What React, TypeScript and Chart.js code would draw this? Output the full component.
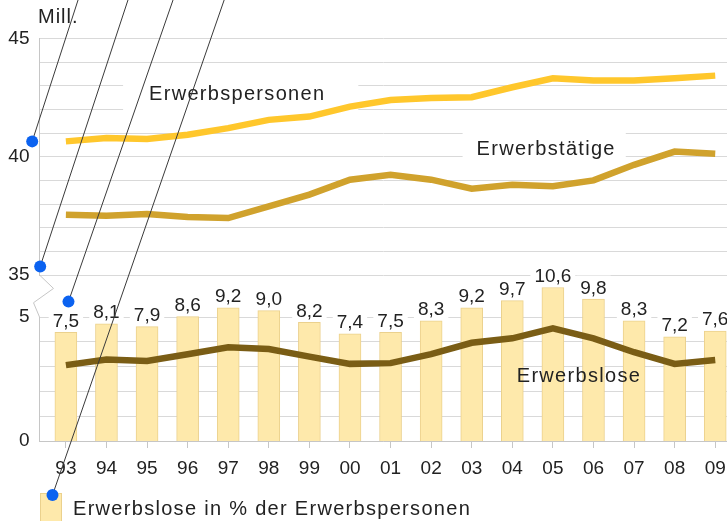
import React, { useEffect, useRef } from 'react';
import { Chart, registerables } from 'chart.js';

Chart.register(...registerables);

const years = ['93', '94', '95', '96', '97', '98', '99', '00', '01', '02', '03', '04', '05', '06', '07', '08', '09'];
const erwerbspersonen = [40.65, 40.79, 40.75, 40.93, 41.21, 41.56, 41.70, 42.12, 42.40, 42.48, 42.52, 42.94, 43.32, 43.22, 43.22, 43.32, 43.43];
const erwerbstaetige = [37.55, 37.51, 37.58, 37.45, 37.41, 37.90, 38.40, 39.03, 39.24, 39.03, 38.65, 38.82, 38.75, 39.00, 39.66, 40.22, 40.13];
const erwerbslose = [3.06, 3.29, 3.23, 3.50, 3.78, 3.71, 3.40, 3.11, 3.14, 3.50, 3.96, 4.14, 4.54, 4.14, 3.58, 3.11, 3.27];
const quote = [7.5, 8.1, 7.9, 8.6, 9.2, 9.0, 8.2, 7.4, 7.5, 8.3, 9.2, 9.7, 10.6, 9.8, 8.3, 7.2, 7.6];
const upperGrid = [35, 36, 37, 38, 39, 40, 41, 42, 43, 44, 45];
const upperTicks = [35, 40, 45];
const lowerGrid = [0, 1, 2, 3, 4, 5];
const lowerTicks = [0, 5];

const FONT = '"Liberation Sans", Arial, Helvetica, sans-serif';
const BAR_FILL = '#FEE9AB';
const BAR_BORDER = '#EBD18D';
const GRID = '#d9d9d9';
const AXIS = '#c6c6c6';
const TEXT = '#222222';

// series labels placed in data coordinates (x index, value on axis)
const seriesLabels = [
  { text: 'Erwerbspersonen', axis: 'yTop', x: 2.05, y: 42.38, box: [26, 33, 31, 17] },
  { text: 'Erwerbstätige', axis: 'yTop', x: 10.12, y: 40.08, box: [14, 10, 33, 15] },
  { text: 'Erwerbslose', axis: 'yBottom', x: 11.11, y: 2.39, box: null as null | number[] },
];

// leader lines with blue dots seen in the reference (dot in data coords, line to top edge)
const callouts = [
  { x: -0.83, axis: 'yTop', y: 40.65, topX: 0.30 },
  { x: -0.633, axis: 'yTop', y: 35.36, topX: 1.53 },
  { x: 0.064, axis: 'yBottom', y: 5.62, topX: 2.64 },
  { x: -0.33, axis: 'yBottom', y: -2.18, topX: 3.9 },
];

const fmt = (v: number) => v.toFixed(1).replace('.', ',');

const overlay = {
  id: 'overlay',
  beforeDatasetsDraw(chart: any) {
    const { ctx, scales } = chart;
    const x = scales.x;
    ctx.save();
    ctx.fillStyle = '#ffffff';
    ctx.font = `20px ${FONT}`;
    (ctx as any).letterSpacing = '1.3px';
    for (const s of seriesLabels) {
      if (!s.box) continue;
      const px = x.getPixelForValue(s.x);
      const py = scales[s.axis].getPixelForValue(s.y);
      const w = ctx.measureText(s.text).width;
      ctx.fillRect(px - s.box[0], py - s.box[2], w + s.box[0] + s.box[1], s.box[2] + s.box[3]);
    }
    (ctx as any).letterSpacing = '0px';
    ctx.font = `19px ${FONT}`;
    const meta = chart.getDatasetMeta(0);
    meta.data.forEach((bar: any, i: number) => {
      const t = fmt(quote[i]);
      const w = ctx.measureText(t).width;
      const top = bar.y - 5.5 - 18;
      ctx.fillRect(bar.x - w / 2 - 4, top, w + 8, bar.y - top);
    });
    // axis break zigzag
    const yt = scales.yTop, yb = scales.yBottom;
    const left = chart.chartArea.left;
    const a = yt.bottom, b = yb.top;
    const h = b - a;
    ctx.strokeStyle = AXIS;
    ctx.lineWidth = 1;
    ctx.beginPath();
    ctx.moveTo(left, a);
    ctx.lineTo(left + 14, a + h * 0.32);
    ctx.lineTo(left - 6, a + h * 0.66);
    ctx.lineTo(left, b);
    ctx.stroke();
    ctx.restore();
  },
  afterDatasetsDraw(chart: any) {
    const { ctx, scales, chartArea } = chart;
    const x = scales.x;
    ctx.save();
    ctx.fillStyle = TEXT;
    ctx.textBaseline = 'alphabetic';
    ctx.font = `19px ${FONT}`;
    ctx.textAlign = 'center';
    const meta = chart.getDatasetMeta(0);
    meta.data.forEach((bar: any, i: number) => {
      ctx.fillText(fmt(quote[i]), bar.x, bar.y - 5.5);
    });
    ctx.textAlign = 'left';
    ctx.font = `20px ${FONT}`;
    (ctx as any).letterSpacing = '1.3px';
    for (const s of seriesLabels) {
      ctx.fillText(s.text, x.getPixelForValue(s.x), scales[s.axis].getPixelForValue(s.y));
    }
    const lx = chartArea.left + 0.5;
    const ly = chartArea.bottom + 52;
    ctx.fillStyle = BAR_FILL;
    ctx.fillRect(lx, ly, 22, 40);
    ctx.strokeStyle = BAR_BORDER;
    ctx.lineWidth = 1;
    ctx.strokeRect(lx + 0.5, ly + 0.5, 21, 40);
    ctx.fillStyle = TEXT;
    ctx.fillText('Erwerbslose in % der Erwerbspersonen', lx + 33, chartArea.bottom + 74);
    (ctx as any).letterSpacing = '1px';
    ctx.fillText('Mill.', chartArea.left - 1.5, chartArea.top - 15.5);
    (ctx as any).letterSpacing = '0px';
    ctx.restore();
  },
  afterDraw(chart: any) {
    const { ctx, scales } = chart;
    const x = scales.x;
    ctx.save();
    for (const c of callouts) {
      const dx = x.getPixelForValue(c.x);
      const dy = scales[c.axis].getPixelForValue(c.y);
      const tx = x.getPixelForValue(c.topX);
      ctx.strokeStyle = '#3a3a3a';
      ctx.lineWidth = 1;
      ctx.beginPath();
      ctx.moveTo(dx, dy);
      ctx.lineTo(tx, 0);
      ctx.stroke();
      ctx.fillStyle = '#0b62f0';
      ctx.beginPath();
      ctx.arc(dx, dy, 6, 0, Math.PI * 2);
      ctx.fill();
    }
    ctx.restore();
  },
};

export default function App() {
  const ref = useRef<HTMLCanvasElement | null>(null);
  useEffect(() => {
    if (!ref.current) return;
    Chart.defaults.font.family = FONT;
    const fixY = (s: any) => {
      s.width = 39.5;
      s.paddingTop = 0;
      s.paddingBottom = 0;
    };
    const chart = new Chart(ref.current, {
      type: 'bar',
      data: {
        datasets: [
          {
            type: 'bar',
            label: 'Erwerbslose in % der Erwerbspersonen',
            data: quote.map((v, i) => ({ x: i, y: v })),
            xAxisID: 'x',
            yAxisID: 'yBar',
            backgroundColor: BAR_FILL,
            borderColor: BAR_BORDER,
            borderWidth: 1,
            barThickness: 22,
            order: 5,
          } as any,
          {
            type: 'line',
            label: 'Erwerbspersonen',
            data: erwerbspersonen.map((v, i) => ({ x: i, y: v })),
            yAxisID: 'yTop',
            borderColor: '#FFC72C',
            borderWidth: 6.5,
            pointRadius: 0,
            tension: 0,
            order: 1,
          },
          {
            type: 'line',
            label: 'Erwerbstätige',
            data: erwerbstaetige.map((v, i) => ({ x: i, y: v })),
            yAxisID: 'yTop',
            borderColor: '#D0A22D',
            borderWidth: 6.5,
            pointRadius: 0,
            tension: 0,
            order: 2,
          },
          {
            type: 'line',
            label: 'Erwerbslose',
            data: erwerbslose.map((v, i) => ({ x: i, y: v })),
            yAxisID: 'yBottom',
            borderColor: '#7A5D15',
            borderWidth: 6.5,
            pointRadius: 0,
            tension: 0,
            order: 3,
          },
        ],
      },
      options: {
        responsive: false,
        animation: false,
        devicePixelRatio: 1,
        layout: { padding: { top: 38.5, left: 0, right: 0, bottom: 0 } },
        plugins: { legend: { display: false }, tooltip: { enabled: false } },
        scales: {
          x: {
            type: 'linear',
            position: 'bottom',
            offset: false,
            min: -0.65,
            max: 16.29,
            grid: { offset: false, drawOnChartArea: false, drawTicks: true, tickLength: 7, color: AXIS },
            border: { display: true, color: AXIS },
            ticks: {
              stepSize: 1,
              autoSkip: false,
              maxRotation: 0,
              includeBounds: false,
              padding: 9,
              color: TEXT,
              font: { size: 19 },
              callback: (v: any) => (Number.isInteger(v) && years[v] !== undefined ? years[v] : ''),
            },
            afterBuildTicks: (s: any) => {
              s.ticks = years.map((_, i) => ({ value: i }));
            },
            afterFit: (s: any) => {
              s.height = 80;
              s.paddingLeft = 0;
              s.paddingRight = 0;
            },
          } as any,
          yTop: {
            type: 'linear',
            position: 'left',
            stack: 'left',
            stackWeight: 236.5,
            weight: 3,
            min: 35,
            max: 45,
            grid: { color: GRID, drawTicks: false },
            border: { display: true, color: AXIS },
            ticks: {
              autoSkip: false,
              padding: 10,
              color: TEXT,
              font: { size: 19 },
              callback: (v: any) => (upperTicks.includes(v) ? String(v) : ''),
            },
            afterBuildTicks: (s: any) => {
              s.ticks = upperGrid.map((v) => ({ value: v }));
            },
            afterFit: fixY,
          } as any,
          yGap: {
            type: 'linear',
            position: 'left',
            stack: 'left',
            stackWeight: 42,
            weight: 2,
            min: 0,
            max: 1,
            grid: { display: false },
            border: { display: false },
            ticks: { display: false },
            afterFit: fixY,
          } as any,
          yBottom: {
            type: 'linear',
            position: 'left',
            stack: 'left',
            stackWeight: 124,
            weight: 1,
            min: 0,
            max: 5,
            grid: { color: GRID, drawTicks: false },
            border: { display: true, color: AXIS },
            ticks: {
              autoSkip: false,
              padding: 10,
              color: TEXT,
              font: { size: 19 },
              callback: (v: any) => (lowerTicks.includes(v) ? String(v) : ''),
            },
            afterBuildTicks: (s: any) => {
              s.ticks = lowerGrid.map((v) => ({ value: v }));
            },
            afterFit: fixY,
          } as any,
          yBar: {
            type: 'linear',
            position: 'right',
            display: false,
            min: 0,
            max: 27.8,
          },
        },
      },
      plugins: [overlay],
    });
    return () => chart.destroy();
  }, []);

  return (
    <div style={{ position: 'absolute', left: 0, top: 0, width: 727, height: 521, overflow: 'hidden', background: '#fff' }}>
      <canvas ref={ref} width={727} height={521} style={{ width: 727, height: 521, display: 'block' }} />
    </div>
  );
}
